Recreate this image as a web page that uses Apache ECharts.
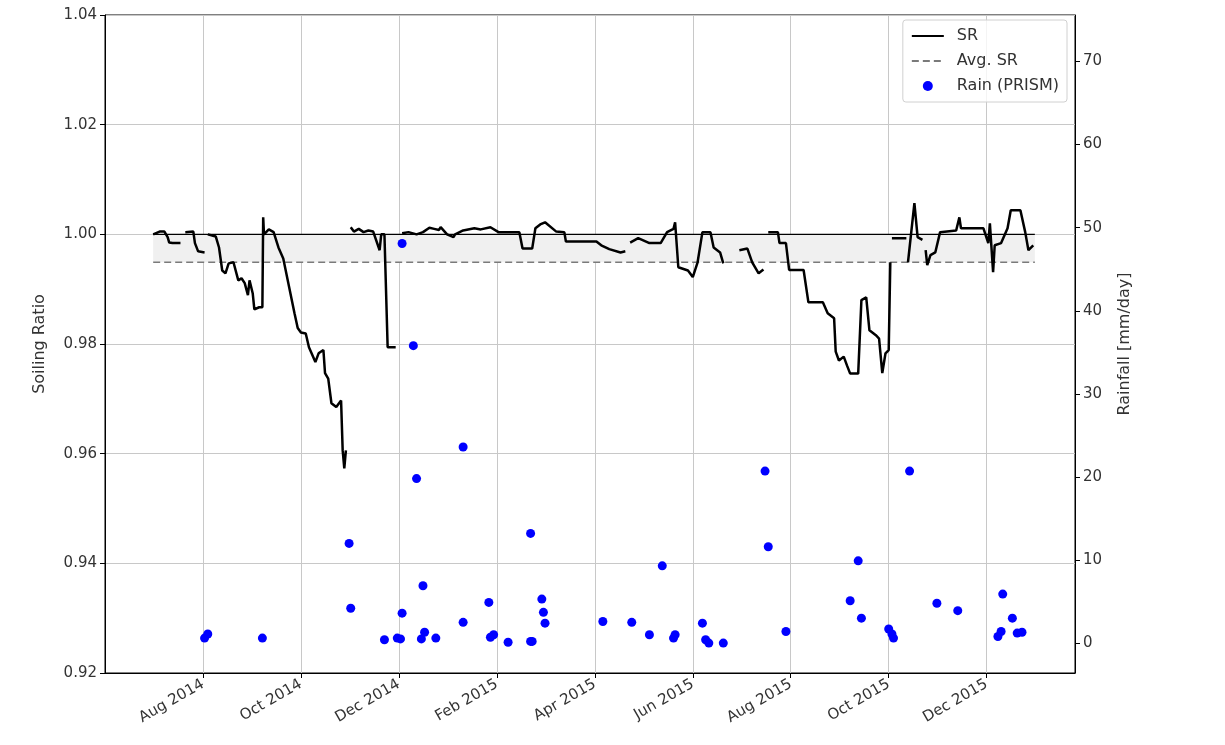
<!DOCTYPE html>
<html>
<head>
<meta charset="utf-8">
<script src="https://cdn.jsdelivr.net/npm/echarts@6/dist/echarts.min.js"></script>
<style>
  html, body { margin: 0; padding: 0; background: #fff; }
  #main { width: 1225px; height: 745px; }
</style>
</head>
<body>
<div id="main"></div>
<script>
// x values are days counted from 1 Aug 2014
const xTickLabels = ['Aug 2014', 'Oct 2014', 'Dec 2014', 'Feb 2015', 'Apr 2015',
  'Jun 2015', 'Aug 2015', 'Oct 2015', 'Dec 2015'];

// soiling ratio (null = gap in record)
const srDay = [-31, -27, -24, -22, -21, -19, -14, null,
  -11, -6, -5, -3, 1, null,
  3, 8, 10, 12, 14, 16, 19, 22, 24, 26, 28, 29, 31, 32, 35, 37, 37.5, 38, 41, 44, 47, 50,
  57, 59, 61, 64, 66, 70, 72, 75, 76, 78, 80, 83, 86, 87, 88, 89, null,
  92, 94, 97, 100, 103, 106, 110, 111, 113, 115, 120, null,
  124, 128, 133, 137, 141, 144, 147, 148, 152, 156, 157, 162, 169, 173, 179, 184, 197, 199,
  205, 207, 210, 213, 220, 225, 226, 245, 248, 253, 260, 263, null,
  266, 271, 278, 285, 289, 293, 294, 296, 302, 305, 308, 311, 316, 318, 322, 324, null,
  334, 339, 342, 346, 349, null,
  352, 358, 359, 363, 365, 374, 377, 386, 389, 393, 394, 396, 399, 401, 403, 408, 410, 413,
  415, 419, 421, 423, 425, 427, 428, null,
  429, 438, null,
  439, 443, 445, 448, null,
  450, 451, 453, 456, 459, 469, 471, 472, 486, 489, 490, 492, 493, 497, 501, 503, 509, 512,
  514, 517];
const srValue = [1.0000, 1.0005, 1.0005, 0.9995, 0.9985, 0.9984, 0.9984, null,
  1.0004, 1.0005, 0.9984, 0.9969, 0.9967, null,
  1.0000, 0.9996, 0.9976, 0.9934, 0.9929, 0.9947, 0.9949, 0.9916, 0.9920, 0.9911, 0.9889,
  0.9916, 0.9892, 0.9863, 0.9867, 0.9867, 1.0031, 1.0000, 1.0009, 1.0004, 0.9976, 0.9956,
  0.9856, 0.9829, 0.9821, 0.9819, 0.9794, 0.9767, 0.9783, 0.9789, 0.9747, 0.9737, 0.9692,
  0.9685, 0.9697, 0.9606, 0.9573, 0.9606, null,
  1.0013, 1.0005, 1.0010, 1.0004, 1.0007, 1.0005, 0.9971, 1.0000, 1.0000, 0.9794, 0.9794, null,
  1.0002, 1.0004, 1.0000, 1.0004, 1.0012, 1.0010, 1.0008, 1.0013, 1.0000, 0.9995, 1.0000,
  1.0007, 1.0011, 1.0009, 1.0013, 1.0004, 1.0004, 0.9974,
  0.9974, 1.0011, 1.0018, 1.0022, 1.0005, 1.0004, 0.9987, 0.9987, 0.9980, 0.9973, 0.9967,
  0.9969, null,
  0.9985, 0.9993, 0.9984, 0.9984, 1.0004, 1.0010, 1.0022, 0.9940, 0.9934, 0.9922, 0.9949,
  1.0004, 1.0004, 0.9976, 0.9967, 0.9947, null,
  0.9971, 0.9974, 0.9949, 0.9929, 0.9936, null,
  1.0004, 1.0004, 0.9984, 0.9984, 0.9935, 0.9935, 0.9876, 0.9876, 0.9856, 0.9847, 0.9786,
  0.9770, 0.9777, 0.9761, 0.9746, 0.9746, 0.9880, 0.9885,
  0.9825, 0.9816, 0.9810, 0.9747, 0.9783, 0.9789, 0.9949, null,
  0.9993, 0.9993, null,
  0.9949, 1.0057, 0.9995, 0.9990, null,
  0.9971, 0.9944, 0.9962, 0.9967, 1.0004, 1.0007, 1.0031, 1.0011, 1.0011, 0.9984, 1.0020,
  0.9931, 0.9980, 0.9984, 1.0011, 1.0044, 1.0044, 1.0004,
  0.9971, 0.9980];

const avgSR = 0.9949;
const cleanSR = 1.0;
const recordSpan = [-31, 518];

// daily rainfall, PRISM [mm/day]
const rainDay = [1, 3, 37, 91, 92, 113, 121, 123, 124, 124, 131, 133, 137, 138, 136, 145,
  162, 162, 178, 179, 181, 190, 204, 205, 204, 211, 212, 213, 249, 267, 278, 286, 293, 294,
  311, 313, 315, 324, 350, 352, 363, 403, 408, 410, 427, 429, 430, 440, 457, 470, 495, 497,
  498, 504, 507, 510];
const rainValue = [0.6, 1.1, 0.6, 12.0, 4.2, 0.4, 0.6, 0.5, 3.6, 48.1, 35.8, 19.8, 6.9, 1.3,
  0.5, 0.6, 23.6, 2.5, 4.9, 0.7, 1.0, 0.1, 0.2, 0.2, 13.2, 5.3, 3.7, 2.4, 2.6, 2.5, 1.0, 9.3,
  0.6, 1.0, 2.4, 0.4, 0.0, 0.0, 20.7, 11.6, 1.4, 5.1, 9.9, 3.0, 1.7, 1.1, 0.6, 20.7, 4.8, 3.9,
  0.8, 1.4, 5.9, 3.0, 1.2, 1.3];

const srData = srDay.map((d, i) => d === null ? ['-', '-'] : [d, srValue[i]]);
const rainData = rainDay.map((d, i) => [d, rainValue[i]]);

const txt = { fontFamily: 'DejaVu Sans', fontSize: 15, color: '#333' };
const rainTicks = [0, 10, 20, 30, 40, 50, 60, 70];

let myChart = echarts.init(document.getElementById('main'), null, { renderer: 'canvas' });

let option = {
  animation: false,
  backgroundColor: '#fff',
  textStyle: { fontFamily: 'DejaVu Sans' },
  grid: {
    left: 105, right: 150, top: 15, bottom: 72,
    show: true, borderColor: '#000', borderWidth: 1
  },
  legend: {
    data: [
      { name: 'SR', itemStyle: { opacity: 0 } },
      { name: 'Avg. SR', itemStyle: { opacity: 0 } },
      { name: 'Rain (PRISM)' }
    ],
    orient: 'vertical',
    right: 158, top: 20,
    backgroundColor: 'rgba(255,255,255,0.8)',
    borderColor: '#d0d0d0', borderWidth: 1, borderRadius: 3,
    padding: [8, 8, 8, 8],
    itemGap: 9, itemWidth: 32, itemHeight: 10,
    textStyle: Object.assign({}, txt, { fontSize: 16, padding: [0, 0, 0, 8] })
  },
  xAxis: {
    type: 'value',
    min: -61, max: 543, interval: 61,
    axisLine: { onZero: false, lineStyle: { color: '#000' } },
    axisTick: { show: true, length: 5, lineStyle: { color: '#000' } },
    splitLine: { show: true, lineStyle: { color: '#c8c8c8', width: 1 } },
    axisLabel: Object.assign({
      rotate: 30, margin: 10, showMaxLabel: false, showMinLabel: false,
      formatter: function (v) {
        const i = Math.round(v / 61);
        return (i >= 0 && i < xTickLabels.length && Math.abs(v - i * 61) < 0.5) ? xTickLabels[i] : '';
      }
    }, txt)
  },
  yAxis: [
    {
      type: 'value',
      min: 0.92, max: 1.04, interval: 0.02,
      name: 'Soiling Ratio', nameLocation: 'middle', nameGap: 57,
      nameTextStyle: Object.assign({}, txt, { fontSize: 16 }),
      axisLine: { show: true, onZero: false, lineStyle: { color: '#000' } },
      axisTick: { show: true, length: 5, lineStyle: { color: '#000' } },
      splitLine: { show: true, lineStyle: { color: '#c8c8c8', width: 1 } },
      axisLabel: Object.assign({ formatter: v => v.toFixed(2), margin: 8 }, txt)
    },
    {
      type: 'value',
      min: -3.6, max: 75.6,
      name: 'Rainfall [mm/day]', nameLocation: 'middle', nameGap: 42,
      nameTextStyle: Object.assign({}, txt, { fontSize: 16 }),
      position: 'right',
      axisLine: { show: true, onZero: false, lineStyle: { color: '#000' } },
      axisTick: { show: true, length: 5, customValues: rainTicks, lineStyle: { color: '#000' } },
      splitLine: { show: false },
      axisLabel: Object.assign({ customValues: rainTicks, margin: 8 }, txt)
    }
  ],
  series: [
    {
      name: 'Avg. SR',
      type: 'line',
      symbol: 'none',
      data: recordSpan.map(d => [d, avgSR]),
      lineStyle: { color: '#7a7a7a', width: 1.6, type: [7, 4] },
      itemStyle: { color: '#7a7a7a' },
      z: 3,
      markArea: {
        silent: true,
        itemStyle: { color: '#f0f0f0' },
        data: [[{ coord: [recordSpan[0], cleanSR] }, { coord: [recordSpan[1], avgSR] }]]
      }
    },
    {
      name: 'clean',
      type: 'line',
      symbol: 'none',
      data: recordSpan.map(d => [d, cleanSR]),
      lineStyle: { color: '#000', width: 1.3 },
      z: 3
    },
    {
      name: 'SR',
      type: 'line',
      symbol: 'none',
      data: srData,
      connectNulls: false,
      lineStyle: { color: '#000', width: 2.5 },
      itemStyle: { color: '#000' },
      z: 4
    },
    {
      name: 'Rain (PRISM)',
      type: 'scatter',
      yAxisIndex: 1,
      symbolSize: 9,
      data: rainData,
      itemStyle: { color: '#0000ff', opacity: 1 },
      z: 5
    }
  ]
};

option && myChart.setOption(option);
</script>
</body>
</html>
